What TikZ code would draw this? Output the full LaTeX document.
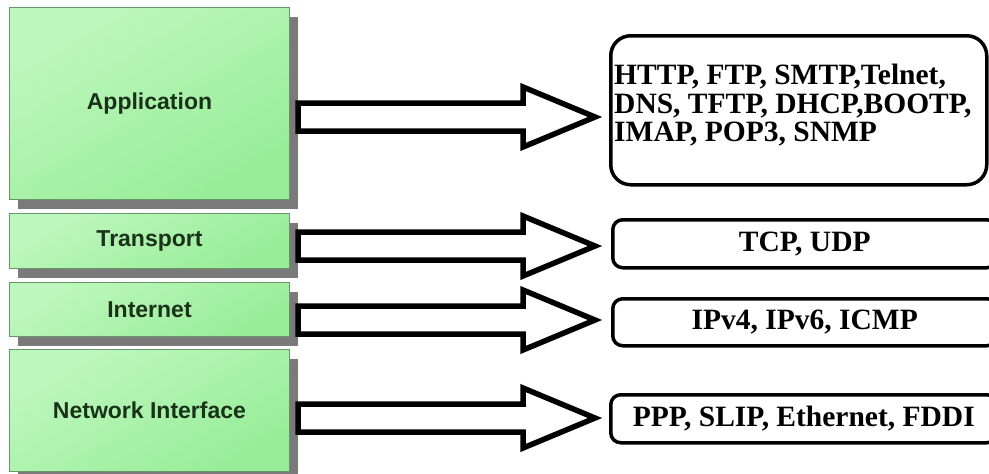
\documentclass[tikz,border=0pt]{standalone}
\usepackage{fontspec}
\setmainfont{Liberation Serif}
\newfontfamily\arialfont{Liberation Sans}
\usetikzlibrary{shadows}
\definecolor{gtop}{RGB}{190,247,190}
\definecolor{gbot}{RGB}{152,237,152}
\definecolor{gborder}{RGB}{105,150,105}
\definecolor{gshadow}{RGB}{122,122,122}
\definecolor{gtext}{RGB}{26,50,26}
\tikzset{
  layer/.style={rectangle, anchor=north west, inner sep=0pt, draw=gborder, line width=1pt,
    top color=gtop, bottom color=gbot, shading angle=30,
    drop shadow={shadow xshift=8pt, shadow yshift=-9pt, fill=gshadow, opacity=1},
    text=gtext, font=\arialfont\bfseries\fontsize{23}{26}\selectfont},
  proto/.style={rectangle, anchor=north west, inner sep=0pt, draw=black, line width=3.5pt,
    rounded corners=10pt, fill=white, font=\bfseries\fontsize{29.5}{29}\selectfont},
  prototext/.style={anchor=north west, inner sep=0pt, align=left,
    font=\bfseries\fontsize{29.5}{28.5}\selectfont},
  blockarrow/.style={draw=black, line width=5.5pt, fill=white, line join=miter, miter limit=10}
}
\newcommand\layerarrow[1]{%
  \draw[blockarrow] (298,#1-14) -- (523,#1-14) -- (523,#1-30) -- (595,#1)
    -- (523,#1+30) -- (523,#1+14) -- (298,#1+14) -- cycle;}
\begin{document}
\begin{tikzpicture}[x=1pt,y=-1pt]
  \useasboundingbox (0,0) rectangle (989,474);
  \clip (0,0) rectangle (989,474);
  \fill[white] (0,0) rectangle (989,474);
  % layers
  \node[layer, minimum width=280pt, minimum height=192pt] (app) at (9,7) {Application};
  \node[layer, minimum width=280pt, minimum height=55pt] (tra) at (9,213) {Transport};
  \node[layer, minimum width=280pt, minimum height=54pt] (int) at (9,282) {Internet};
  \node[layer, minimum width=280pt, minimum height=122pt] (net) at (9,349) {Network Interface};
  % protocol boxes
  \node[proto, rounded corners=20pt, minimum width=376pt, minimum height=149pt] (appbox) at (609,34) {};
  \node[prototext] (apptext) at (614,64) {HTTP, FTP, SMTP,Telnet,\\DNS, TFTP, DHCP,BOOTP,\\IMAP, POP3, SNMP};
  \node[proto, minimum width=384pt, minimum height=48pt] (trabox) at (611,218) {TCP, UDP};
  \node[proto, minimum width=384pt, minimum height=47pt] (intbox) at (611,297) {IPv4, IPv6, ICMP};
  \node[proto, minimum width=386pt, minimum height=48pt] (netbox) at (609,393) {PPP, SLIP, Ethernet, FDDI};
  % arrows
  \layerarrow{117}
  \layerarrow{246}
  \layerarrow{320}
  \layerarrow{418}
\end{tikzpicture}
\end{document}
